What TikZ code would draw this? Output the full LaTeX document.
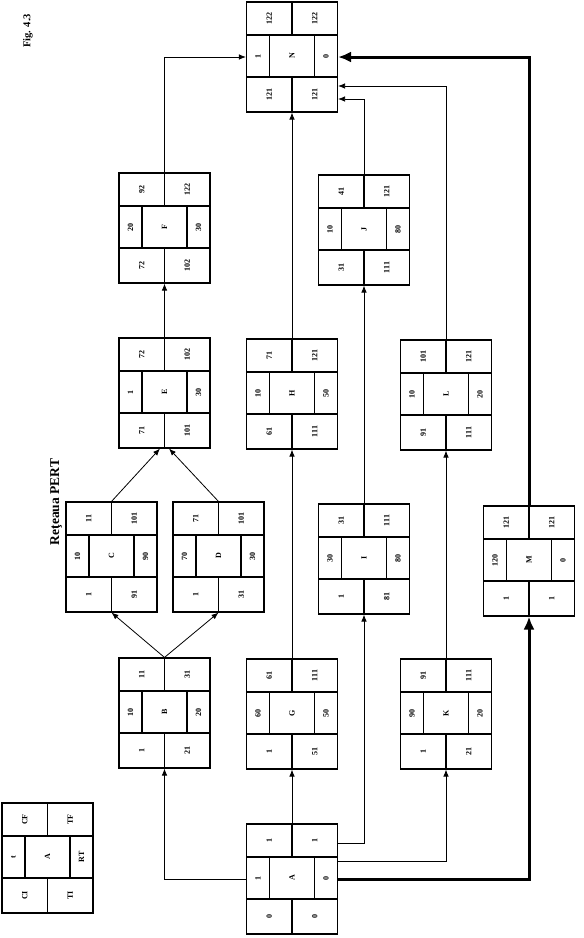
\documentclass[tikz,border=0pt]{standalone}
\usepackage{fontspec}
\setmainfont{Liberation Serif}
\usetikzlibrary{arrows.meta}

% one PERT box: name, centre, CF, TF, t, activity, RT, CI, TI
\newcommand{\pertnode}[9]{%
  \node[cell box] (#1) at (#2) {};
  \begin{scope}[shift={(#2)}]
    \draw[cell line] (-45.5,-22) -- (45.5,-22) (-45.5,20) -- (45.5,20)
      (0,-55) -- (0,-22) (0,20) -- (0,55)
      (-22.5,-22) -- (-22.5,20) (22.5,-22) -- (22.5,20);
    \node[val] (#1-cf) at (-22.75,-38.5) {#3};
    \node[val] (#1-tf) at (22.75,-38.5) {#4};
    \node[val] (#1-t) at (-34,-1) {#5};
    \node[val] (#1-name) at (0,-1) {#6};
    \node[val] (#1-rt) at (34,-1) {#7};
    \node[val] (#1-ci) at (-22.75,37.5) {#8};
    \node[val] (#1-ti) at (22.75,37.5) {#9};
  \end{scope}}

\begin{document}
\begin{tikzpicture}[x=1pt,y=-1pt,>={Latex[length=7pt,width=5.5pt]},
    cell box/.style={draw,line width=1.1pt,minimum width=91pt,minimum height=110pt,inner sep=0pt},
    cell line/.style={line width=1.1pt},
    val/.style={rotate=90,inner sep=0pt,font=\fontsize{8}{9}\selectfont\bfseries},
    link/.style={->,line width=0.8pt},
    crit/.style={-{Latex[length=13pt,width=11pt]},line width=3pt}]

  \useasboundingbox (0,0) rectangle (584,938);

  % Titles
  \node[rotate=90,font=\fontsize{10.5}{12}\selectfont\bfseries] (fig) at (28,31) {Fig. 4.3};
  \node[rotate=90,font=\fontsize{13.5}{15}\selectfont\bfseries] (title) at (56,502) {Reţeaua PERT};

  % Legend
  \pertnode{key}{47.5,858}{CF}{TF}{t}{A}{RT}{CI}{TI}

  % Activities
  \pertnode{A}{292,879}{1}{1}{1}{A}{0}{0}{0}
  \pertnode{B}{164.5,713}{11}{31}{10}{B}{20}{1}{21}
  \pertnode{G}{292,714}{61}{111}{60}{G}{50}{1}{51}
  \pertnode{K}{446,714}{91}{111}{90}{K}{20}{1}{21}
  \pertnode{C}{111.5,557}{11}{101}{10}{C}{90}{1}{91}
  \pertnode{D}{218.5,557}{71}{101}{70}{D}{30}{1}{31}
  \pertnode{I}{364,559}{31}{111}{30}{I}{80}{1}{81}
  \pertnode{M}{529,561}{121}{121}{120}{M}{0}{1}{1}
  \pertnode{E}{164.5,393}{72}{102}{1}{E}{30}{71}{101}
  \pertnode{H}{292,394}{71}{121}{10}{H}{50}{61}{111}
  \pertnode{L}{446,395}{101}{121}{10}{L}{20}{91}{111}
  \pertnode{F}{164.5,228}{92}{122}{20}{F}{30}{72}{102}
  \pertnode{J}{364,230}{41}{121}{10}{J}{80}{31}{111}
  \pertnode{N}{292,57}{122}{122}{1}{N}{0}{121}{121}

  % Links out of A
  \draw[link] (A.west) -| (B.south);
  \draw[link] (A.north) -- (G.south);
  \draw[link] ([yshift=36pt]A.east) -| (I.south);
  \draw[link] ([yshift=18pt]A.east) -| (K.south);
  \draw[crit] (A.east) -| (M.south);

  % Middle links
  \draw[link] (B.north) -- (C.south);
  \draw[link] (B.north) -- (D.south);
  \draw[link] (C.north) -- ([xshift=-4.5pt]E.south);
  \draw[link] (D.north) -- ([xshift=4.5pt]E.south);
  \draw[link] (E.north) -- (F.south);
  \draw[link] (G.north) -- (H.south);
  \draw[link] (I.north) -- (J.south);
  \draw[link] (K.north) -- (L.south);

  % Links into N
  \draw[link] (F.north) |- (N.west);
  \draw[link] (H.north) -- (N.south);
  \draw[link] (J.north) |- ([yshift=-42pt]N.east);
  \draw[link] (L.north) |- ([yshift=-29pt]N.east);
  \draw[crit] (M.north) |- (N.east);

\end{tikzpicture}
\end{document}
